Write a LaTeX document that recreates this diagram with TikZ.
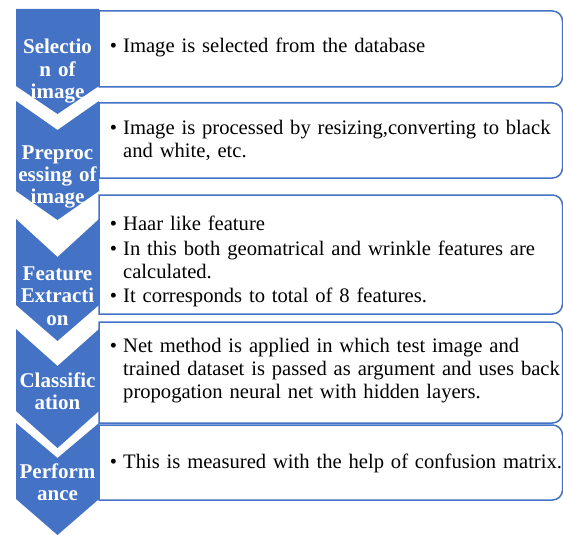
\documentclass[tikz,border=0pt]{standalone}
\usepackage{fontspec}
\setmainfont{Liberation Serif}
\definecolor{chevblue}{RGB}{68,114,196}
\newcommand{\listbox}[2]{% top, bottom
  \draw[listbox] (99,#1) -- (552.5,#1) arc[start angle=90,end angle=0,radius=10pt]
    -- (562.5,#2-10) arc[start angle=0,end angle=-90,radius=10pt] -- (99,#2) -- cycle;}
\begin{document}
\begin{tikzpicture}[x=1pt,y=-1pt,
  chev/.style={fill=chevblue},
  listbox/.style={draw=chevblue,line width=1.5pt,fill=white},
  chevlabel/.style={text=white,font=\fontsize{21}{22.5}\selectfont\bfseries,
    text width=90pt,align=center,anchor=base,inner sep=0pt},
  itemtext/.style={font=\fontsize{20.6}{23}\selectfont,text width=520pt,
    align=left,anchor=base west,inner sep=0pt}]
\useasboundingbox (0,0) rectangle (563,535);
% text boxes
\listbox{11}{87}
\listbox{103}{178}
\listbox{195}{314}
\listbox{322}{423}
\listbox{425}{500}
% chevrons
\fill[chev] (16,9) -- (99,9) -- (99,86) -- (57.5,114) -- (16,86) -- cycle;
\fill[chev] (16,101) -- (57.5,130) -- (99,101) -- (99,191) -- (57.5,220) -- (16,191) -- cycle;
\fill[chev] (16,219) -- (57.5,257) -- (99,219) -- (99,305) -- (57.5,341) -- (16,305) -- cycle;
\fill[chev] (16,329) -- (57.5,366) -- (99,329) -- (99,411) -- (57.5,448) -- (16,411) -- cycle;
\fill[chev] (16,423) -- (57.5,458) -- (99,423) -- (99,499) -- (57.5,535) -- (16,499) -- cycle;
% labels
\node[chevlabel] (selection) at (57.5,54) {Selectio\\n of\\image};
\node[chevlabel] (preproc) at (57.5,159) {Preproc\\essing of\\image};
\node[chevlabel] (extraction) at (57.5,280) {Feature\\Extracti\\on};
\node[chevlabel] (classif) at (57.5,387) {Classific\\ation};
\node[chevlabel] (perform) at (57.5,478) {Perform\\ance};
% items
\node[itemtext] (item1) at (123,53) {\llap{•\hspace{6pt}}Image is selected from the database};
\node[itemtext] (item2) at (123,135) {\llap{•\hspace{6pt}}Image is processed by resizing,converting to black\\and white, etc.};
\node[itemtext] (item3a) at (123,230) {\llap{•\hspace{6pt}}Haar like feature};
\node[itemtext] (item3b) at (123,255) {\llap{•\hspace{6pt}}In this both geomatrical and wrinkle features are\\calculated.};
\node[itemtext] (item3c) at (123,302) {\llap{•\hspace{6pt}}It corresponds to total of 8 features.};
\node[itemtext] (item4) at (123,352) {\llap{•\hspace{6pt}}Net method is applied in which test image and\\trained dataset is passed as argument and uses back\\propogation neural net with hidden layers.};
\node[itemtext] (item5) at (123,468) {\llap{•\hspace{6pt}}This is measured with the help of confusion matrix.};
\end{tikzpicture}
\end{document}
